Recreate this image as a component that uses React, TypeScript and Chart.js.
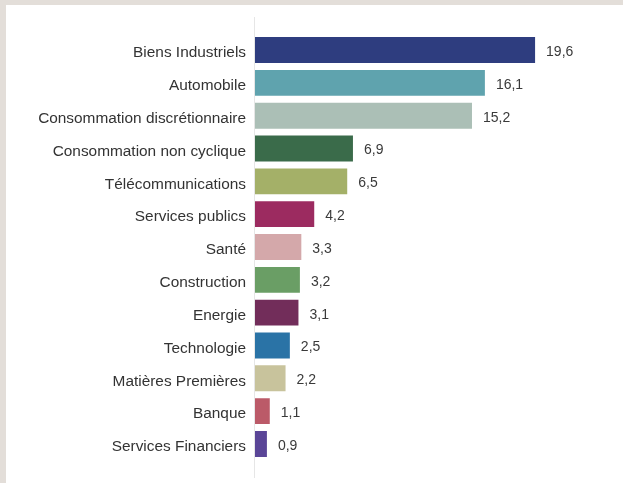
import React, { useEffect, useRef } from "react";
import { Chart, registerables } from "chart.js";

Chart.register(...registerables);

const categories = [
  "Biens Industriels",
  "Automobile",
  "Consommation discrétionnaire",
  "Consommation non cyclique",
  "Télécommunications",
  "Services publics",
  "Santé",
  "Construction",
  "Energie",
  "Technologie",
  "Matières Premières",
  "Banque",
  "Services Financiers",
];

const values = [19.6, 16.1, 15.2, 6.9, 6.5, 4.2, 3.3, 3.2, 3.1, 2.5, 2.2, 1.1, 0.9];

const barColors = [
  "#2e3d7f",
  "#5fa3ae",
  "#abbfb6",
  "#3a6b4a",
  "#a4b068",
  "#9c2b60",
  "#d4a8aa",
  "#6a9e65",
  "#722d5a",
  "#2a73a6",
  "#c8c39c",
  "#bb5a68",
  "#5a4597",
];

const FONT = "'Liberation Sans', Arial, sans-serif";

export default function App() {
  const ref = useRef<HTMLCanvasElement | null>(null);

  useEffect(() => {
    if (!ref.current) return;
    const axisLine = {
      id: "axisLine",
      beforeDatasetsDraw(chart: any) {
        const { ctx, scales } = chart;
        const x = Math.round(scales.x.getPixelForValue(0)) - 0.5;
        ctx.save();
        ctx.strokeStyle = "#e6e6e6";
        ctx.lineWidth = 1;
        ctx.beginPath();
        ctx.moveTo(x, 12);
        ctx.lineTo(x, 473);
        ctx.stroke();
        ctx.restore();
      },
    };
    const valueLabels = {
      id: "valueLabels",
      afterDatasetsDraw(chart: any) {
        const { ctx } = chart;
        const meta = chart.getDatasetMeta(0);
        ctx.save();
        ctx.fillStyle = "#3a3a3a";
        ctx.font = `14px ${FONT}`;
        ctx.textAlign = "left";
        ctx.textBaseline = "middle";
        meta.data.forEach((bar: any, i: number) => {
          const txt = values[i].toFixed(1).replace(".", ",");
          ctx.fillText(txt, bar.x + 10, bar.y + 2);
        });
        ctx.restore();
      },
    };
    const chart = new Chart(ref.current, {
      type: "bar",
      data: {
        labels: categories,
        datasets: [
          {
            data: values,
            backgroundColor: barColors,
            borderColor: "rgba(255,255,255,0.35)",
            borderWidth: 1,
            categoryPercentage: 1,
            barPercentage: 0.85,
          },
        ],
      },
      options: {
        indexAxis: "y",
        animation: false,
        responsive: false,
        maintainAspectRatio: false,
        layout: { padding: { left: 0, right: 52.5, top: 28.6, bottom: 22.6 } },
        plugins: { legend: { display: false }, tooltip: { enabled: false } },
        scales: {
          x: { display: false, min: 0, max: 22 },
          y: {
            grid: { display: false, drawTicks: false },
            border: { display: false },
            ticks: {
              color: "#333333",
              font: { family: FONT, size: 15.4 },
              padding: 9,
              labelOffset: 3,
            },
            afterFit(scale: any) {
              scale.width = 249;
            },
          },
        },
      },
      plugins: [axisLine, valueLabels],
    });
    return () => chart.destroy();
  }, []);

  return (
    <div
      style={{
        position: "absolute",
        left: 0,
        top: 0,
        width: 623,
        height: 483,
        background: "#e3ded9",
        overflow: "hidden",
      }}
    >
      <div
        style={{
          position: "absolute",
          left: 6,
          top: 5,
          width: 617,
          height: 478,
          background: "#ffffff",
        }}
      >
        <canvas ref={ref} width={617} height={478} style={{ display: "block" }} />
      </div>
    </div>
  );
}
